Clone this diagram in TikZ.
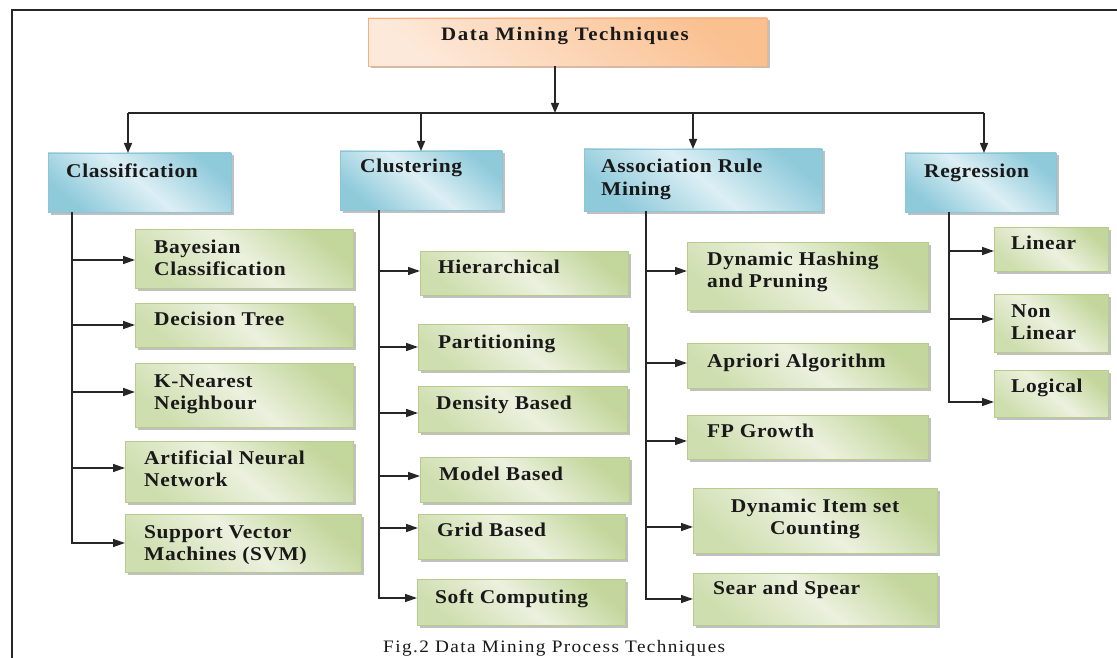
\documentclass[tikz,border=0pt]{standalone}
\usepackage{fontspec}
\setmainfont{Liberation Serif}
\newfontfamily\boxfont[LetterSpace=3,FakeStretch=1.1]{Liberation Serif}
\newfontfamily\headfont[LetterSpace=8,FakeStretch=1.1]{Liberation Serif}
\newfontfamily\capfont[LetterSpace=8,FakeStretch=1.1]{Liberation Serif}
\usetikzlibrary{arrows.meta,shadows}

\definecolor{bluedark}{HTML}{8FCADB}
\definecolor{bluelight}{HTML}{DCEFF4}
\definecolor{blueline}{HTML}{8DC5D5}
\definecolor{greendark}{HTML}{C3D69B}
\definecolor{greenlight}{HTML}{EBF1DE}
\definecolor{greenline}{HTML}{B7CC8C}
\definecolor{orangedark}{HTML}{FAC090}
\definecolor{orangelight}{HTML}{FDE9D9}
\definecolor{orangeline}{HTML}{F4B183}

% two stacked lines, the node baseline is the first one
\newcommand\twolines[2]{\vtop{\hbox{#1}\hbox{#2}}}
\newcommand\twolinesc[2]{\vtop{\halign{\hfil##\hfil\cr#1\cr#2\cr}}}

\tikzset{
  box/.style={rectangle, inner sep=0pt, outer sep=0pt, line width=0.6pt,
    anchor=north west,
    drop shadow={shadow xshift=2.5pt, shadow yshift=-2.5pt, fill=black!45, opacity=0.55}},
  headbox/.style={box, draw=orangeline, top color=orangedark, bottom color=orangelight,
    shading angle=-40},
  bluebox/.style={box, draw=blueline, top color=bluedark, bottom color=bluedark,
    middle color=bluelight, shading angle=-40},
  greenbox/.style={box, draw=greenline, top color=greendark, bottom color=greendark!70!greenlight,
    middle color=greenlight, shading angle=-40},
  lbl/.style={inner sep=0pt, anchor=base west, text=black!90,
    font=\fontsize{19.5}{22.5}\boxfont\bfseries},
  conn/.style={line width=1.5pt, draw=black!85},
  arr/.style={conn, -{Triangle[length=10pt,width=8pt]}},
  arrs/.style={conn, -{Triangle[length=12pt,width=8pt]}},
}

\begin{document}
\begin{tikzpicture}[x=1pt,y=-1pt]
\useasboundingbox (0,0) rectangle (1117,658);

% frame
\coordinate (frameBL) at (12,658);
\coordinate (frameTL) at (12,10);
\coordinate (frameTR) at (1117,10);
\draw[conn] (frameBL) -- (frameTL) -- (frameTR);

% root
\node[headbox, minimum width=399pt, minimum height=48pt] (T) at (368,18) {};
\node[inner sep=0pt, anchor=base, text=black!90, font=\fontsize{19}{22}\headfont\bfseries]
  (Ttxt) at (565,41) {Data Mining Techniques};

% second level
\node[bluebox, minimum width=183pt, minimum height=59pt] (C1) at (48,153) {};
\node[bluebox, minimum width=162pt, minimum height=59pt] (C2) at (340,151) {};
\node[bluebox, minimum width=238pt, minimum height=62pt] (C3) at (584,149) {};
\node[bluebox, minimum width=151pt, minimum height=59pt] (C4) at (905,153) {};
\node[lbl] (C1txt) at (66,178) {Classification};
\node[lbl] (C2txt) at (360,173) {Clustering};
\node[lbl] (C3txt) at (601,173) {\twolines{Association Rule}{Mining}};
\node[lbl] (C4txt) at (924,178) {Regression};

% root to second level
\coordinate (hub) at (555,113);
\coordinate (bus1) at (128,113);
\coordinate (bus2) at (421,113);
\coordinate (bus3) at (693,113);
\coordinate (bus4) at (984,113);
\draw[arr] (T.south -| hub) -- (hub);
\draw[conn] (bus1) -- (bus4);
\draw[arr] (bus1) -- (bus1 |- C1.north);
\draw[arr] (bus2) -- (bus2 |- C2.north);
\draw[arr] (bus3) -- (bus3 |- C3.north);
\draw[arr] (bus4) -- (bus4 |- C4.north);

% Classification branch
\node[greenbox, minimum width=218pt, minimum height=59pt] (B1) at (135,229) {};
\node[greenbox, minimum width=218pt, minimum height=44pt] (B2) at (135,303) {};
\node[greenbox, minimum width=218pt, minimum height=64pt] (B3) at (135,363) {};
\node[greenbox, minimum width=228pt, minimum height=61pt] (B4) at (125,441) {};
\node[greenbox, minimum width=236pt, minimum height=58pt] (B5) at (125,514) {};
\node[lbl] (B1txt) at (154,253) {\twolines{Bayesian}{Classification}};
\node[lbl] (B2txt) at (154,325) {Decision Tree};
\node[lbl] (B3txt) at (154,387) {\twolines{K-Nearest}{Neighbour}};
\node[lbl] (B4txt) at (144,464) {\twolines{Artificial Neural}{Network}};
\node[lbl] (B5txt) at (144,538) {\twolines{Support Vector}{Machines (SVM)}};

\coordinate (t1) at (72,212);
\coordinate (b1in) at ([yshift=-1.5pt]B1.west);
\coordinate (b2in) at (B2.west);
\coordinate (b3in) at ([yshift=3pt]B3.west);
\coordinate (b4in) at ([yshift=3.5pt]B4.west);
\coordinate (b5in) at (B5.west);
\draw[arrs] (t1) |- (b5in);
\draw[arrs] (t1 |- b1in) -- (b1in);
\draw[arrs] (t1 |- b2in) -- (b2in);
\draw[arrs] (t1 |- b3in) -- (b3in);
\draw[arrs] (t1 |- b4in) -- (b4in);

% Clustering branch
\node[greenbox, minimum width=208pt, minimum height=44pt] (L1) at (420,251) {};
\node[greenbox, minimum width=209pt, minimum height=46pt] (L2) at (418,324) {};
\node[greenbox, minimum width=209pt, minimum height=46pt] (L3) at (418,386) {};
\node[greenbox, minimum width=209pt, minimum height=45pt] (L4) at (420,457) {};
\node[greenbox, minimum width=207pt, minimum height=45pt] (L5) at (418,514) {};
\node[greenbox, minimum width=208pt, minimum height=46pt] (L6) at (417,579) {};
\node[lbl] (L1txt) at (438,273) {Hierarchical};
\node[lbl] (L2txt) at (438,348) {Partitioning};
\node[lbl] (L3txt) at (436,409) {Density Based};
\node[lbl] (L4txt) at (439,480) {Model Based};
\node[lbl] (L5txt) at (437,536) {Grid Based};
\node[lbl] (L6txt) at (435,603) {Soft Computing};

\coordinate (t2) at (379,210);
\coordinate (l1in) at ([yshift=2pt]L1.west);
\coordinate (l2in) at (L2.west);
\coordinate (l3in) at ([yshift=-4pt]L3.west);
\coordinate (l4in) at ([yshift=3.5pt]L4.west);
\coordinate (l5in) at ([yshift=8.5pt]L5.west);
\coordinate (l6in) at ([yshift=4pt]L6.west);
\draw[arrs] (t2) |- (l6in);
\draw[arrs] (t2 |- l1in) -- (l1in);
\draw[arrs] (t2 |- l2in) -- (l2in);
\draw[arrs] (t2 |- l3in) -- (l3in);
\draw[arrs] (t2 |- l4in) -- (l4in);
\draw[arrs] (t2 |- l5in) -- (l5in);

% Association rule mining branch
\node[greenbox, minimum width=241pt, minimum height=68pt] (A1) at (687,242) {};
\node[greenbox, minimum width=241pt, minimum height=45pt] (A2) at (687,343) {};
\node[greenbox, minimum width=241pt, minimum height=44pt] (A3) at (687,415) {};
\node[greenbox, minimum width=244pt, minimum height=65pt] (A4) at (693,488) {};
\node[greenbox, minimum width=244pt, minimum height=52pt] (A5) at (693,573) {};
\node[lbl] (A1txt) at (707,265) {\twolines{Dynamic Hashing}{and Pruning}};
\node[lbl] (A2txt) at (707,367) {Apriori Algorithm};
\node[lbl] (A3txt) at (707,437) {FP Growth};
\node[lbl, anchor=base] (A4txt) at (815,512) {\twolinesc{Dynamic Item set}{Counting}};
\node[lbl] (A5txt) at (713,594) {Sear and Spear};

\coordinate (t3) at (646,211);
\coordinate (a1in) at ([yshift=5pt]A1.west);
\coordinate (a2in) at ([yshift=2.5pt]A2.west);
\coordinate (a3in) at ([yshift=-4pt]A3.west);
\coordinate (a4in) at ([yshift=-6.5pt]A4.west);
\coordinate (a5in) at (A5.west);
\draw[arrs] (t3) |- (a5in);
\draw[arrs] (t3 |- a1in) -- (a1in);
\draw[arrs] (t3 |- a2in) -- (a2in);
\draw[arrs] (t3 |- a3in) -- (a3in);
\draw[arrs] (t3 |- a4in) -- (a4in);

% Regression branch
\node[greenbox, minimum width=114pt, minimum height=44pt] (R1) at (994,227) {};
\node[greenbox, minimum width=114pt, minimum height=58pt] (R2) at (994,294) {};
\node[greenbox, minimum width=114pt, minimum height=47pt] (R3) at (994,370) {};
\node[lbl] (R1txt) at (1011,249) {Linear};
\node[lbl] (R2txt) at (1011,317) {\twolines{Non}{Linear}};
\node[lbl] (R3txt) at (1011,392) {Logical};

\coordinate (t4) at (949,212);
\coordinate (r1in) at ([yshift=-2pt]R1.west);
\coordinate (r2in) at ([yshift=4pt]R2.west);
\coordinate (r3in) at ([yshift=-8.5pt]R3.west);
\draw[arrs] (t4) |- (r3in);
\draw[arrs] (t4 |- r1in) -- (r1in);
\draw[arrs] (t4 |- r2in) -- (r2in);

% caption
\node[inner sep=0pt, anchor=base west, text=black!90, font=\fontsize{17.5}{21}\capfont]
  (caption) at (383,652) {Fig.2 Data Mining Process Techniques};
\end{tikzpicture}
\end{document}
